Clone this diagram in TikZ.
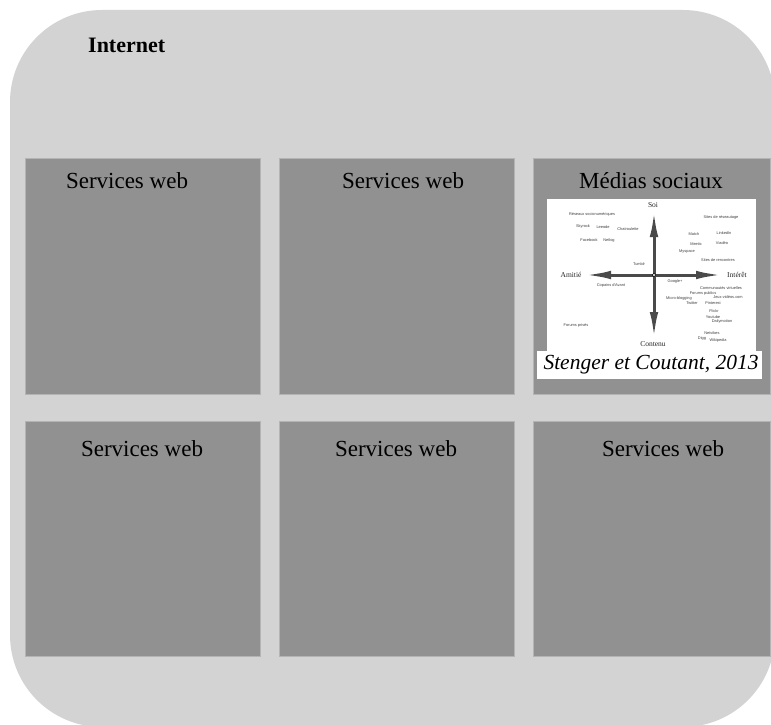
\documentclass[tikz,border=0pt]{standalone}
\usepackage{fontspec}
\setmainfont{Liberation Serif}
\newfontfamily\tinysans{Liberation Sans}
\usetikzlibrary{arrows.meta}
\definecolor{bgray}{HTML}{D3D3D3}
\definecolor{boxgray}{HTML}{919191}
\definecolor{boxline}{HTML}{B4B4B4}
\definecolor{arrgray}{HTML}{4A4A4A}
\tikzset{
  svcbox/.style={draw=boxline, line width=0.8pt, fill=boxgray, inner sep=0pt},
  svclabel/.style={anchor=base, inner sep=0pt, font=\fontsize{23}{26}\selectfont},
  axislabel/.style={inner sep=0pt, font=\fontsize{7.5}{8}\selectfont, text=black!85},
  smalltxt/.style={inner sep=0pt, font=\tinysans\fontsize{3.9}{4.5}\selectfont, text=black!75},
  axisarrow/.style={draw=arrgray, line width=3pt, -{Latex[length=26pt,width=8.5pt]}},
}
\begin{document}
\begin{tikzpicture}[x=1pt,y=-1pt]
\useasboundingbox (0,0) rectangle (771,725);
% Internet background
\path[fill=bgray, rounded corners=92pt] (10,10) rectangle (775,727);
\node[anchor=base west, inner sep=0pt, font=\bfseries\fontsize{22}{26}\selectfont] (internet) at (88,53) {Internet};

% boxes
\node[svcbox, minimum width=235pt, minimum height=236pt] (b1) at (142.5,276) {};
\node[svcbox, minimum width=235pt, minimum height=236pt] (b2) at (396.5,276) {};
\node[svcbox, minimum width=237pt, minimum height=236pt] (b3) at (651.5,276) {};
\node[svcbox, minimum width=235pt, minimum height=235pt] (b4) at (142.5,538.5) {};
\node[svcbox, minimum width=235pt, minimum height=235pt] (b5) at (396.5,538.5) {};
\node[svcbox, minimum width=237pt, minimum height=235pt] (b6) at (651.5,538.5) {};

\node[svclabel] (t1) at (127,188) {Services web};
\node[svclabel] (t2) at (403,188) {Services web};
\node[svclabel] (t3) at (651,188) {Médias sociaux};
\node[svclabel] (t4) at (142,456) {Services web};
\node[svclabel] (t5) at (396,456) {Services web};
\node[svclabel] (t6) at (663,456) {Services web};

% embedded figure
\path[fill=white] (547,199) rectangle (756,352);
\node[draw=none, fill=white, minimum width=225pt, minimum height=28pt, inner sep=0pt] (capbox) at (649.5,365) {};
\node[anchor=base, inner sep=0pt, font=\itshape\fontsize{21.5}{24}\selectfont] (cap) at (651,369) {Stenger et Coutant, 2013};

\coordinate (c) at (654,275);
\coordinate (up) at (654,211);
\coordinate (down) at (654,338);
\coordinate (left) at (585,275);
\coordinate (right) at (722,275);
\draw[axisarrow] (c) -- (up);
\draw[axisarrow] (c) -- (down);
\draw[axisarrow] (c) -- (left);
\draw[axisarrow] (c) -- (right);
\node[circle, draw=black, fill=white, line width=0.6pt, minimum size=3.5pt, inner sep=0pt] (ctr) at (c) {};

\node[axislabel] (soi) at (653,205) {Soi};
\node[axislabel] (amitie) at (571,275) {Amitié};
\node[axislabel] (interet) at (737,275) {Intérêt};
\node[axislabel] (contenu) at (653,344) {Contenu};

\node[smalltxt] (s1) at (592,214) {Réseaux socionumériques};
\node[smalltxt] (s2) at (583,226) {Skyrock};
\node[smalltxt] (s3) at (603,227) {Leeode};
\node[smalltxt] (s4) at (628,229) {Chatroulette};
\node[smalltxt] (s5) at (589,240) {Facebook};
\node[smalltxt] (s6) at (609,240) {Netlog};
\node[smalltxt] (s7) at (639,264) {Tumblr};
\node[smalltxt] (s8) at (611,285) {Copains d'Avant};
\node[smalltxt] (s9) at (576,325) {Forums privés};
\node[smalltxt] (s10) at (721,217) {Sites de réseautage};
\node[smalltxt] (s11) at (694,234) {Match};
\node[smalltxt] (s12) at (724,233) {LinkedIn};
\node[smalltxt] (s13) at (696,244) {Meetic};
\node[smalltxt] (s14) at (722,243) {Viadéo};
\node[smalltxt] (s15) at (687,252) {Myspace};
\node[smalltxt] (s16) at (718,260) {Sites de rencontres};
\node[smalltxt] (s17) at (675,281) {Google+};
\node[smalltxt] (s18) at (721,288) {Communautés virtuelles};
\node[smalltxt] (s19) at (703,293) {Forums publics};
\node[smalltxt] (s20) at (728,297) {Jeux-vidéos.com};
\node[smalltxt] (s21) at (679,298) {Micro-blogging};
\node[smalltxt] (s22) at (692,303) {Twitter};
\node[smalltxt] (s23) at (713,303) {Pinterest};
\node[smalltxt] (s24) at (714,311) {Flickr};
\node[smalltxt] (s25) at (713,317) {Youtube};
\node[smalltxt] (s26) at (722,321) {Dailymotion};
\node[smalltxt] (s27) at (712,333) {Netvibes};
\node[smalltxt] (s28) at (702,338) {Digg};
\node[smalltxt] (s29) at (718,340) {Wikipedia};
\end{tikzpicture}
\end{document}
